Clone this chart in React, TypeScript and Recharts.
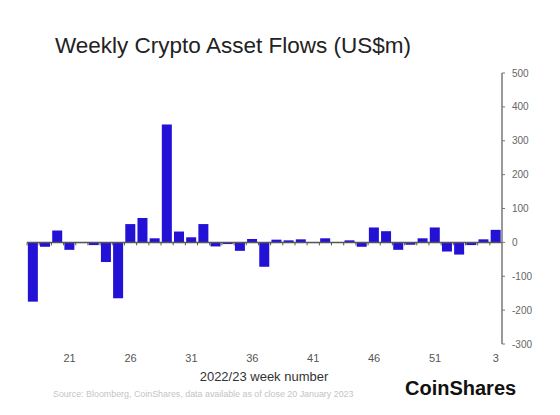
import { BarChart, Bar, XAxis, YAxis, ReferenceLine } from "recharts";

// week numbers, 2022 week 18 through 2023 week 3
const weeks = [
  "18", "19", "20", "21", "22", "23", "24", "25", "26", "27",
  "28", "29", "30", "31", "32", "33", "34", "35", "36", "37",
  "38", "39", "40", "41", "42", "43", "44", "45", "46", "47",
  "48", "49", "50", "51", "52", "53", "1", "2", "3",
];

// weekly net flows, US$m
const flows = [
  -175, -13, 35, -22, -2, -8, -58, -165, 54, 72,
  12, 348, 32, 15, 54, -12, -5, -25, 10, -72,
  8, 6, 9, -2, 12, -1, 6, -13, 44, 33,
  -22, -7, 12, 44, -27, -36, -8, 9, 37,
];

const weekLabels = ["21", "26", "31", "36", "41", "46", "51", "3"];
const yTicks = [-300, -200, -100, 0, 100, 200, 300, 400, 500];

const data = weeks.map((week, i) => ({ week, flow: flows[i] }));

const FONT = "'Liberation Sans', Arial, sans-serif";
const GAP = 0.07;

// bar plus the little tick on the zero line at its left edge
const FlowBar = (props: any) => {
  const { x, y, width, height, fill, payload } = props;
  const top = Math.min(y, y + height);
  const h = Math.abs(height);
  const zero = payload.flow >= 0 ? top + h : top;
  const tx = x - (width * GAP) / (1 - 2 * GAP);
  return (
    <g>
      <rect x={x} y={top} width={width} height={h} fill={fill} />
      <line x1={tx} x2={tx} y1={zero} y2={zero + 3} stroke="#555" strokeWidth={1} />
    </g>
  );
};

export default function App() {
  return (
    <div style={{ position: "relative", width: 560, height: 415, margin: -8, fontFamily: FONT, background: "#fff" }}>
      <BarChart
        width={560}
        height={415}
        data={data}
        margin={{ top: 73, right: 18, left: 27, bottom: 41 }}
        barCategoryGap={`${GAP * 100}%`}
      >
        <XAxis
          dataKey="week"
          interval={0}
          tickFormatter={(v) => (weekLabels.includes(v) ? v : "")}
          axisLine={false}
          tickLine={false}
          tickSize={0}
          tickMargin={10}
          height={30}
          tick={{ fontSize: 11, fill: "#555", fontFamily: FONT }}
        />
        <YAxis
          orientation="right"
          domain={[-300, 500]}
          ticks={yTicks}
          interval={0}
          width={40}
          axisLine={{ stroke: "#777", strokeWidth: 1.5 }}
          tickLine={{ stroke: "#777" }}
          tickSize={3}
          tickMargin={7}
          tick={{ fontSize: 10, fill: "#666", fontFamily: FONT }}
        />
        <Bar dataKey="flow" fill="#2312d6" shape={FlowBar} isAnimationActive={false} />
        <ReferenceLine y={0} stroke="#555" strokeWidth={1.5} />
      </BarChart>
      <svg width={560} height={415} style={{ position: "absolute", left: 0, top: 0, pointerEvents: "none" }}>
        <text x={55} y={53} fontSize={22.5} fill="#222" fontFamily={FONT}>
          Weekly Crypto Asset Flows (US$m)
        </text>
        <text x={264} y={381} fontSize={13} fill="#333" textAnchor="middle" fontFamily={FONT}>
          2022/23 week number
        </text>
        <text x={53} y={397} fontSize={8.9} fill="#c4c4c4" fontFamily={FONT}>
          Source: Bloomberg, CoinShares, data available as of close 20 January 2023
        </text>
        <text x={405} y={395} fontSize={20} fontWeight={600} fill="#111" fontFamily={FONT}>
          CoinShares
        </text>
      </svg>
    </div>
  );
}
